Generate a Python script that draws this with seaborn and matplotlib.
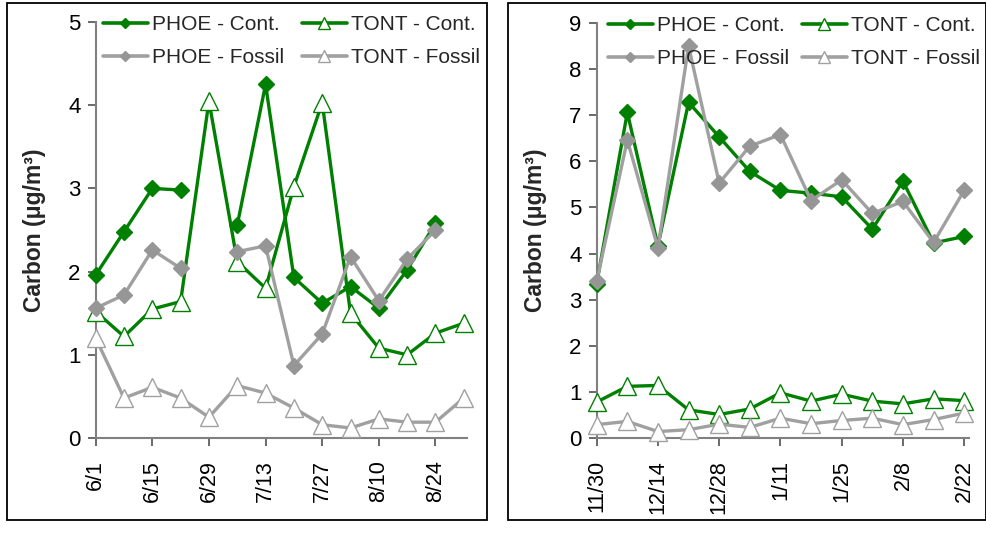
import matplotlib
matplotlib.use('Agg')
import matplotlib.pyplot as plt
import matplotlib.dates as mdates
from matplotlib.lines import Line2D
from matplotlib.patches import Rectangle
from matplotlib.ticker import FuncFormatter
import seaborn as sns
import numpy as np
import pandas as pd

nan = np.nan

# ---------------- data ----------------
summer_dates = ['2004-06-01', '2004-06-08', '2004-06-15', '2004-06-22', '2004-06-29',
                '2004-07-06', '2004-07-13', '2004-07-20', '2004-07-27', '2004-08-03',
                '2004-08-10', '2004-08-17', '2004-08-24', '2004-08-31']
summer_phoe_cont = [1.96, 2.48, 3.00, 2.98, nan, 2.56, 4.25, 1.93, 1.62, 1.82, 1.56, 2.02, 2.58, nan]
summer_tont_cont = [1.52, 1.22, 1.55, 1.64, 4.05, 2.12, 1.80, 3.02, 4.03, 1.50, 1.08, 1.00, 1.26, 1.38]
summer_phoe_fossil = [1.56, 1.72, 2.26, 2.04, nan, 2.24, 2.31, 0.87, 1.25, 2.18, 1.65, 2.15, 2.50, nan]
summer_tont_fossil = [1.20, 0.48, 0.61, 0.48, 0.25, 0.63, 0.54, 0.36, 0.16, 0.12, 0.23, 0.19, 0.19, 0.48]
summer_ticks = ['2004-06-01', '2004-06-15', '2004-06-29', '2004-07-13', '2004-07-27',
                '2004-08-10', '2004-08-24']

winter_dates = ['2004-11-30', '2004-12-07', '2004-12-14', '2004-12-21', '2004-12-28',
                '2005-01-04', '2005-01-11', '2005-01-18', '2005-01-25', '2005-02-01',
                '2005-02-08', '2005-02-15', '2005-02-22']
winter_phoe_cont = [3.35, 7.06, 4.17, 7.28, 6.53, 5.78, 5.37, 5.31, 5.23, 4.53, 5.57, 4.23, 4.37]
winter_tont_cont = [0.78, 1.12, 1.14, 0.61, 0.51, 0.63, 0.98, 0.80, 0.95, 0.80, 0.74, 0.85, 0.81]
winter_phoe_fossil = [3.40, 6.46, 4.12, 8.50, 5.53, 6.33, 6.58, 5.15, 5.60, 4.87, 5.13, 4.24, 5.37]
winter_tont_fossil = [0.29, 0.36, 0.14, 0.18, 0.30, 0.23, 0.43, 0.31, 0.38, 0.43, 0.29, 0.40, 0.54]
winter_ticks = ['2004-11-30', '2004-12-14', '2004-12-28', '2005-01-11', '2005-01-25',
                '2005-02-08', '2005-02-22']

labels = ['PHOE - Cont.', 'TONT - Cont.', 'PHOE - Fossil', 'TONT - Fossil']

# ---------------- style ----------------
sns.set_style('ticks')
plt.rcParams['font.family'] = ['Liberation Sans', 'DejaVu Sans']

GREEN = '#008000'
GRAY_LINE = '#a0a0a0'
GRAY_FILL = '#969696'
SPINE = '#808080'

styles = {
    'TONT - Cont.': dict(marker='^', markersize=13, markerfacecolor='white', markeredgecolor=GREEN),
    'PHOE - Cont.': dict(marker='D', markersize=8.5, markerfacecolor=GREEN, markeredgecolor=GREEN),
    'TONT - Fossil': dict(marker='^', markersize=13, markerfacecolor='white', markeredgecolor=GRAY_LINE),
    'PHOE - Fossil': dict(marker='D', markersize=8.5, markerfacecolor=GRAY_FILL, markeredgecolor=GRAY_FILL),
}
line_colors = {'TONT - Cont.': GREEN, 'PHOE - Cont.': GREEN,
               'TONT - Fossil': GRAY_LINE, 'PHOE - Fossil': GRAY_LINE}

fig = plt.figure(figsize=(9.87, 5.5), dpi=100)
W, H = 987.0, 550.0


def px_axes(x0, x1, ytop, ybot):
    return fig.add_axes([x0 / W, (H - ybot) / H, (x1 - x0) / W, (ybot - ytop) / H])


ax1 = px_axes(95.7, 467, 22, 438)
ax2 = px_axes(596.7, 969, 23, 438)

# panel borders
fig.patches.append(Rectangle((7 / W, (H - 520) / H), (487 - 7) / W, (520 - 3) / H,
                             transform=fig.transFigure, fill=False, edgecolor='black',
                             linewidth=1.3, zorder=0))
fig.patches.append(Rectangle((508 / W, (H - 520) / H), (986 - 508) / W, (520 - 3) / H,
                             transform=fig.transFigure, fill=False, edgecolor='black',
                             linewidth=1.3, zorder=0))


def draw(ax, dates, series, ymax, ticks, xend_days, leg_px, colspace):
    d = pd.to_datetime(dates)
    order = ['TONT - Cont.', 'PHOE - Cont.', 'TONT - Fossil', 'PHOE - Fossil']
    for z, name in enumerate(order):
        vals = series[name]
        df = pd.DataFrame({'date': d, 'value': vals})
        df['seg'] = df['value'].isna().cumsum()
        df = df.dropna()
        st = styles[name]
        sns.lineplot(data=df, x='date', y='value', units='seg', estimator=None, ax=ax,
                     color=line_colors[name], linewidth=2.4, marker=st['marker'],
                     markersize=st['markersize'], markerfacecolor=st['markerfacecolor'],
                     markeredgecolor=st['markeredgecolor'],
                     markeredgewidth=1.0, zorder=3 + z, clip_on=False)
    ax.set_ylim(0, ymax)
    ax.set_yticks(range(0, ymax + 1))
    start = d[0]
    ax.set_xlim(start, start + pd.Timedelta(days=xend_days))
    ax.set_xticks(pd.to_datetime(ticks))
    ax.xaxis.set_major_formatter(FuncFormatter(
        lambda v, p: f"{mdates.num2date(v).month}/{mdates.num2date(v).day}"))
    for lab in ax.get_xticklabels():
        lab.set_rotation(90)
    ax.tick_params(axis='both', labelsize=15.5, color='#505050', length=6, width=1.2,
                   direction='out', labelcolor='black')
    ax.tick_params(axis='y', labelsize=16)
    ax.tick_params(axis='x', pad=10)
    ax.tick_params(axis='y', pad=5)
    for s in ['top', 'right']:
        ax.spines[s].set_visible(False)
    for s in ['left', 'bottom']:
        ax.spines[s].set_color(SPINE)
        ax.spines[s].set_linewidth(1.5)
    ax.set_xlabel('')
    ax.set_ylabel('Carbon (μg/m³)', fontsize=16.5, fontweight='bold')
    ax.yaxis.set_label_coords(-0.134, 0.5)

    handles = []
    for name in ['PHOE - Cont.', 'PHOE - Fossil', 'TONT - Cont.', 'TONT - Fossil']:
        st = styles[name]
        ms = st['markersize'] * (0.65 if st['marker'] == 'D' else 0.62)
        handles.append(Line2D([], [], color=line_colors[name], linewidth=2.6,
                              marker=st['marker'], markersize=ms,
                              markerfacecolor=st['markerfacecolor'],
                              markeredgecolor=st['markeredgecolor'],
                              markeredgewidth=1.0, label=name))
    leg = fig.legend(handles=handles, ncol=2, frameon=False, fontsize=15,
                     loc='upper left', bbox_to_anchor=(leg_px[0] / W, 1 - leg_px[1] / H),
                     bbox_transform=fig.transFigure,
                     handlelength=2.15, handletextpad=0.2, columnspacing=colspace,
                     labelspacing=0.68, borderaxespad=0.0, borderpad=0.0)
    leg.set_zorder(20)


draw(ax1, summer_dates, {'PHOE - Cont.': summer_phoe_cont, 'TONT - Cont.': summer_tont_cont,
                         'PHOE - Fossil': summer_phoe_fossil, 'TONT - Fossil': summer_tont_fossil},
     5, summer_ticks, 91.8, (103, 15), 0.85)
draw(ax2, winter_dates, {'PHOE - Cont.': winter_phoe_cont, 'TONT - Cont.': winter_tont_cont,
                         'PHOE - Fossil': winter_phoe_fossil, 'TONT - Fossil': winter_tont_fossil},
     9, winter_ticks, 85.1, (608, 16), 0.62)

fig.savefig('out.png', dpi=100)
